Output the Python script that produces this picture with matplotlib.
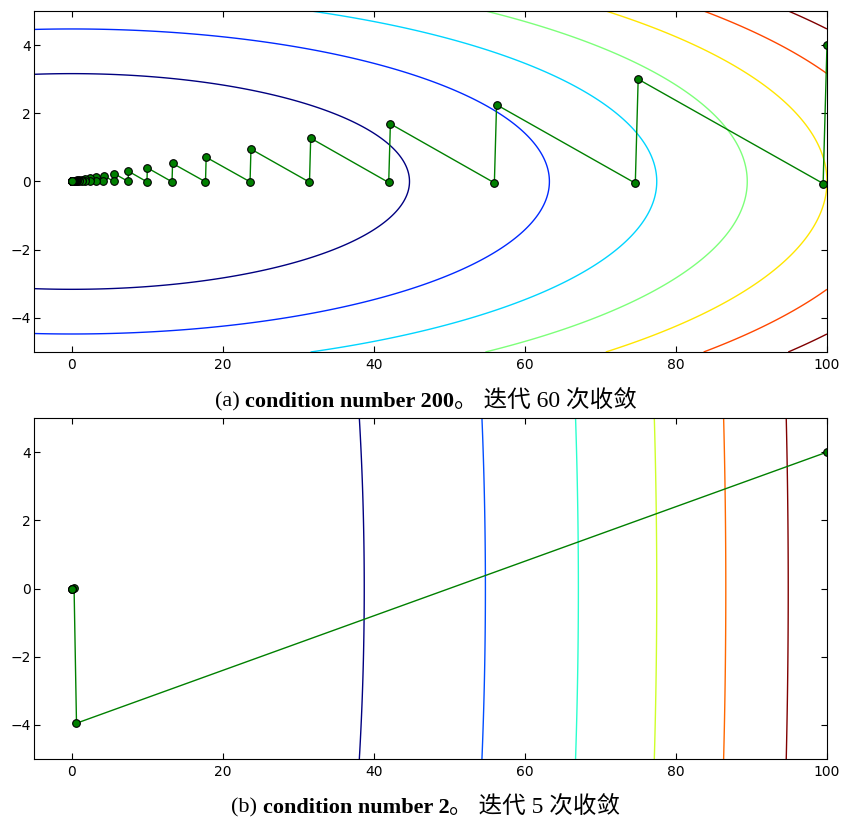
import numpy as np
import matplotlib
matplotlib.use("Agg")
import matplotlib.pyplot as plt
from matplotlib.offsetbox import TextArea, HPacker, AnchoredOffsetbox

# condition numbers of the two quadratics f = x^2 + gamma*y^2
gamma_a = 200
gamma_b = 2
levels_a = [2000, 4000, 6000, 8000, 10000, 12000, 14000]
levels_b = [1500, 3000, 4500, 6000, 7500, 9000]

# gradient descent iterates (a)
path_a_x = [100, 99.49, 75.0, 74.62, 56.25, 55.96, 42.19, 41.97, 31.64, 31.48,
            23.73, 23.61, 17.80, 17.71, 13.35, 13.28, 10.01, 9.96, 7.51, 7.47,
            5.63, 5.60, 4.22, 4.20, 3.17, 3.15, 2.38, 2.36, 1.78, 1.77,
            1.34, 1.33, 1.00, 1.00, 0.75, 0.75, 0.56, 0.56, 0.42, 0.42,
            0.32, 0.32, 0.24, 0.24, 0.18, 0.18, 0.13, 0.13, 0.10, 0.10,
            0.08, 0.07, 0.06, 0.06, 0.04, 0.04, 0.03, 0.03, 0.02, 0.02, 0.02]
path_a_y = [4.0, -0.06, 3.0, -0.05, 2.25, -0.04, 1.69, -0.03, 1.27, -0.02,
            0.95, -0.01, 0.71, -0.01, 0.53, -0.01, 0.40, -0.01, 0.30, 0.0,
            0.23, 0.0, 0.17, 0.0, 0.13, 0.0, 0.10, 0.0, 0.07, 0.0,
            0.05, 0.0, 0.04, 0.0, 0.03, 0.0, 0.02, 0.0, 0.02, 0.0,
            0.01, 0.0, 0.01, 0.0, 0.01, 0.0, 0.01, 0.0, 0.0, 0.0,
            0.0, 0.0, 0.0, 0.0, 0.0, 0.0, 0.0, 0.0, 0.0, 0.0, 0.0]

# iterates for (b)
path_b_x = [100, 0.63, 0.31, 0.0, 0.0, 0.0]
path_b_y = [4.0, -3.95, 0.01, -0.01, 0.0, 0.0]

xticks = [0, 20, 40, 60, 80, 100]
yticks = [-4, -2, 0, 2, 4]

caption_a = ["(a) ", "condition number 200", "。 迭代 60 次收敛"]
caption_b = ["(b) ", "condition number 2", "。 迭代 5 次收敛"]

fig = plt.figure(figsize=(8.43, 8.18), dpi=100)
ax1 = fig.add_axes([0.0403, 0.5697, 0.9407, 0.4169])
ax2 = fig.add_axes([0.0403, 0.0721, 0.9407, 0.4169])

xs = np.linspace(-5, 100, 600)
ys = np.linspace(-5, 5, 400)
X, Y = np.meshgrid(xs, ys)


def draw(ax, gamma, levels, px, py):
    Z = X ** 2 + gamma * Y ** 2
    ax.contour(X, Y, Z, levels=levels, cmap="jet", linewidths=1)
    ax.plot(px, py, color="green", lw=1, marker="o", ms=5.5,
            mfc="green", mec="black", mew=0.8)
    ax.set_xlim(-5, 100)
    ax.set_ylim(-5, 5)
    ax.set_xticks(xticks)
    ax.set_yticks(yticks)
    ax.tick_params(direction="in", top=True, right=True, length=4,
                   labelsize=10)
    ax.tick_params(axis="x", pad=4)
    ax.tick_params(axis="y", pad=2)


draw(ax1, gamma_a, levels_a, path_a_x, path_a_y)
draw(ax2, gamma_b, levels_b, path_b_x, path_b_y)

fam = ["Liberation Serif", "Noto Sans CJK SC"]


def caption(parts, ypos):
    boxes = [
        TextArea(parts[0], textprops=dict(family=fam, size=16)),
        TextArea(parts[1], textprops=dict(family=fam, size=16, weight="bold")),
        TextArea(parts[2], textprops=dict(family=fam, size=17)),
    ]
    pack = HPacker(children=boxes, align="baseline", pad=0, sep=0)
    box = AnchoredOffsetbox(loc="center", child=pack, frameon=False,
                            bbox_to_anchor=(0.505, ypos),
                            bbox_transform=fig.transFigure, pad=0, borderpad=0)
    fig.add_artist(box)


caption(caption_a, 0.510)
caption(caption_b, 0.014)

fig.savefig("out.png", dpi=100)
